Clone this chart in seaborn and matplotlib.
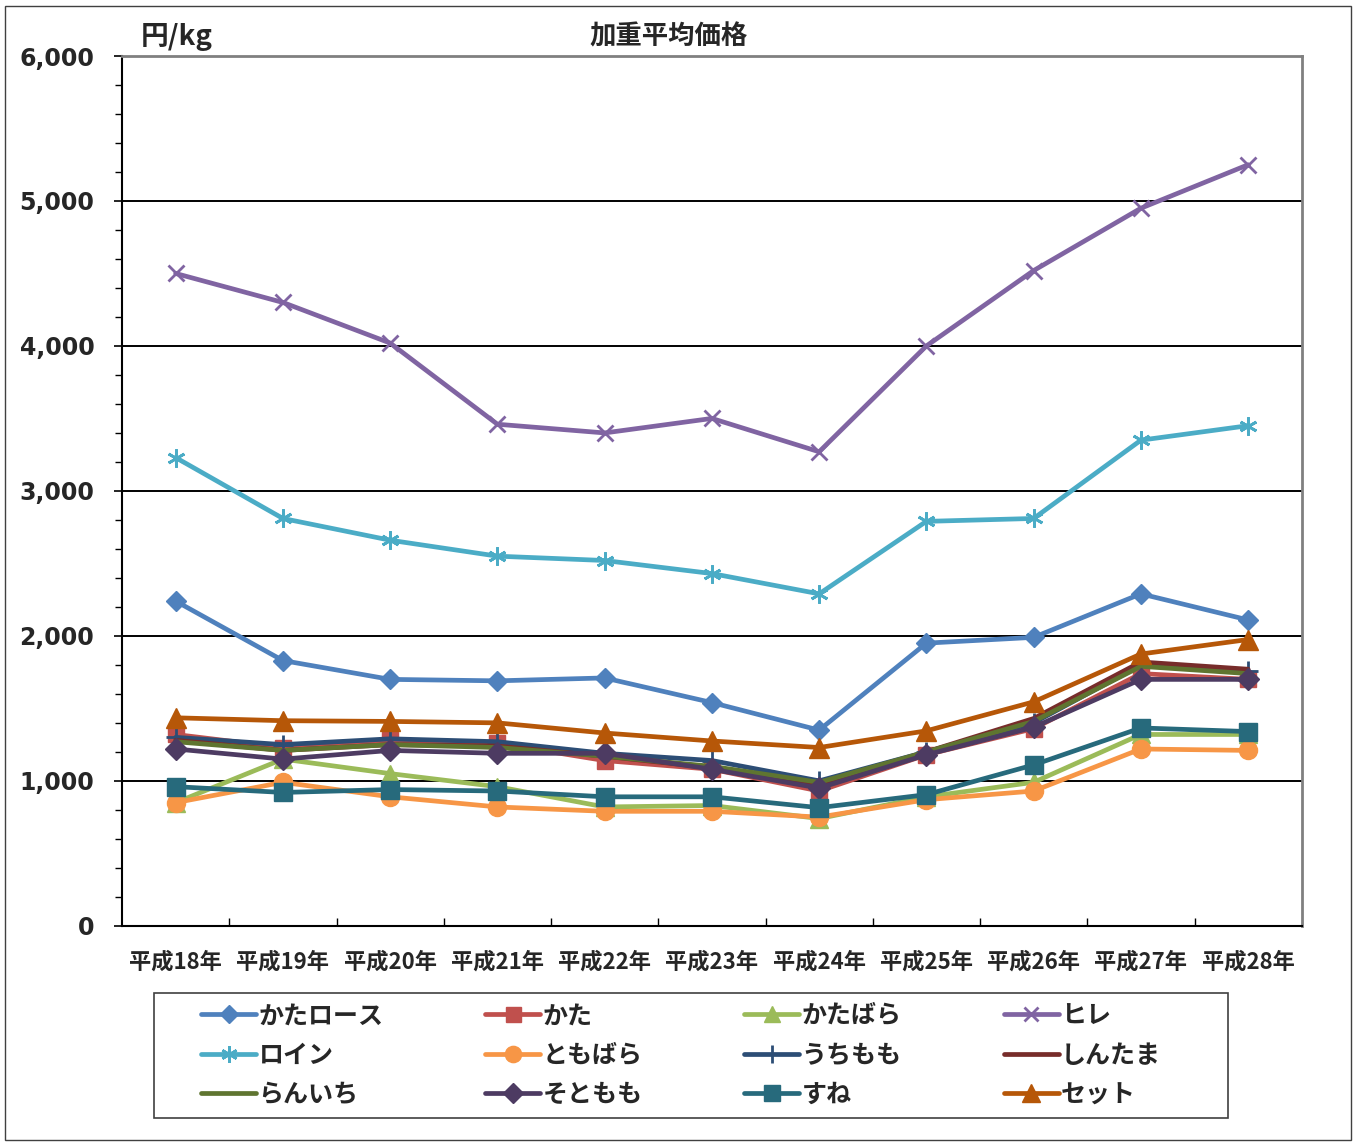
import numpy as np
import pandas as pd
import matplotlib
matplotlib.use("Agg")
import matplotlib.pyplot as plt
from matplotlib.patches import Rectangle
from matplotlib.ticker import MultipleLocator, FuncFormatter
import seaborn as sns

sns.set_theme(style="white")
plt.rcParams['font.family'] = ['Noto Sans CJK JP', 'DejaVu Sans']

years = ["平成18年", "平成19年", "平成20年", "平成21年", "平成22年", "平成23年",
         "平成24年", "平成25年", "平成26年", "平成27年", "平成28年"]

kata_loin = [2240, 1830, 1700, 1690, 1710, 1540, 1350, 1950, 1990, 2290, 2110]
kata = [1320, 1230, 1280, 1260, 1140, 1080, 930, 1180, 1360, 1740, 1700]
katabara = [850, 1150, 1050, 960, 820, 830, 740, 890, 990, 1320, 1320]
hire = [4500, 4300, 4020, 3460, 3400, 3500, 3270, 4000, 4520, 4950, 5250]
loin = [3230, 2810, 2660, 2550, 2520, 2430, 2290, 2790, 2810, 3350, 3450]
tomobara = [850, 990, 890, 820, 790, 790, 750, 870, 930, 1220, 1210]
uchimomo = [1300, 1250, 1290, 1270, 1190, 1140, 1000, 1200, 1400, 1800, 1760]
shintama = [1280, 1210, 1250, 1240, 1170, 1090, 970, 1200, 1430, 1820, 1770]
ranichi = [1270, 1210, 1250, 1230, 1170, 1100, 990, 1200, 1410, 1790, 1740]
sotomomo = [1220, 1150, 1210, 1190, 1190, 1080, 950, 1180, 1370, 1700, 1700]
sune = [960, 920, 940, 930, 890, 890, 815, 905, 1110, 1365, 1340]
setto = [1435, 1415, 1410, 1400, 1330, 1275, 1230, 1345, 1545, 1875, 1975]

series_names = ["かたロース", "かた", "かたばら", "ヒレ", "ロイン", "ともばら",
                "うちもも", "しんたま", "らんいち", "そともも", "すね", "セット"]
series_values = [kata_loin, kata, katabara, hire, loin, tomobara,
                 uchimomo, shintama, ranichi, sotomomo, sune, setto]
colors = ["#4F81BD", "#C0504D", "#9BBB59", "#8064A2", "#4BACC6", "#F79646",
          "#2C4D75", "#772C2A", "#5F7530", "#4D3B62", "#276A7C", "#B65708"]
markers = ["D", "s", "^", "x", (6, 2, 0), "o", "+", None, None, "D", "s", "^"]
msizes = [10, 12, 13, 11, 13, 13, 14, 0, 0, 11, 13, 14]

fig = plt.figure(figsize=(13.56, 11.43), dpi=100)
ax = fig.add_axes([0.09, 0.19, 0.87, 0.761])

df = pd.DataFrame({"年": years})
for name, vals in zip(series_names, series_values):
    df[name] = vals

for name, c, m, ms in zip(series_names, colors, markers, msizes):
    kw = {}
    if m is not None:
        kw = dict(marker=m, markersize=ms, markeredgecolor=c, markerfacecolor=c,
                  markeredgewidth=2 if m in ("x", "+") or isinstance(m, tuple) else 1)
    sns.lineplot(data=df, x="年", y=name, ax=ax, color=c, linewidth=3.4,
                 label=name, sort=False, **kw)

ax.set_xlim(-0.5, len(years) - 0.5)
ax.set_ylim(0, 6000)
ax.yaxis.set_major_locator(MultipleLocator(1000))
ax.yaxis.set_minor_locator(MultipleLocator(200))
ax.yaxis.set_major_formatter(FuncFormatter(lambda v, p: f"{int(v):,}"))
ax.grid(axis="y", which="major", color="black", linewidth=1.4)
ax.set_axisbelow(True)

ax.tick_params(axis="y", which="major", direction="out", length=6, width=1.2,
               labelsize=17, pad=14, color="black", left=True)
ax.tick_params(axis="y", which="minor", direction="out", length=5, width=1.0,
               color="black", left=True)
for lab in ax.get_yticklabels():
    lab.set_family("DejaVu Sans")
    lab.set_fontweight("bold")
ax.set_xticks(np.arange(len(years)))
ax.set_xticklabels(years, fontsize=16, fontweight="bold")
ax.tick_params(axis="x", which="major", length=0, pad=18)
ax.set_xticks(np.arange(len(years) - 1) + 0.5, minor=True)
ax.tick_params(axis="x", which="minor", direction="in", length=6, width=1.0,
               color="black", bottom=True)
ax.set_xlabel("")
ax.set_ylabel("")

for side in ("top", "right"):
    ax.spines[side].set_color("#808080")
    ax.spines[side].set_linewidth(2)
for side in ("left", "bottom"):
    ax.spines[side].set_color("black")
    ax.spines[side].set_linewidth(1.5)

fig.text(0.104, 0.968, "円/kg", fontsize=20, fontweight="bold", ha="left", va="center")
fig.text(0.493, 0.968, "加重平均価格", fontsize=19, fontweight="bold", ha="center", va="center")

handles, labels = ax.get_legend_handles_labels()
ax.get_legend().remove()
order = [i for col in range(4) for i in (col, col + 4, col + 8)]
leg = fig.legend([handles[i] for i in order], [labels[i] for i in order],
                 ncol=4, loc="center", mode="expand",
                 bbox_to_anchor=(181 / 1356, 0.0219, 1000 / 1356, 0.109),
                 frameon=False,
                 prop={"size": 18, "weight": "bold", "family": ["Noto Sans CJK JP", "DejaVu Sans"]},
                 handlelength=2.2, handletextpad=0.1, borderpad=0.3, labelspacing=0.62,
                 markerscale=0.9)

fig.patches.append(Rectangle((154 / 1356, 1 - 1118 / 1143), 1074 / 1356, 125 / 1143,
                             transform=fig.transFigure, fill=False,
                             edgecolor="#404040", linewidth=1.2))
fig.patches.append(Rectangle((0.004, 0.003), 0.992, 0.992, transform=fig.transFigure,
                             fill=False, edgecolor="#404040", linewidth=1.0))

fig.savefig("out.png", dpi=100)
